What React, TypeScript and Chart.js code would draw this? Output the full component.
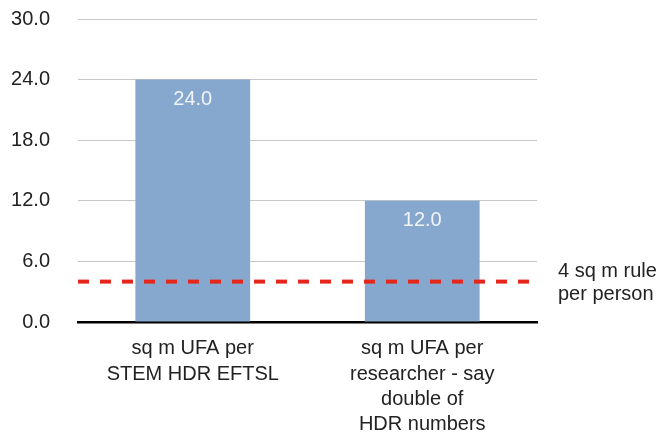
import React, { useEffect, useRef } from "react";
import { Chart, registerables } from "chart.js";

Chart.register(...registerables);

const categories: string[][] = [
  ["sq m UFA per", "STEM HDR EFTSL"],
  ["sq m UFA per", "researcher - say", "double of", "HDR numbers"],
];
const values: number[] = [24.0, 12.0];
const ruleValue = 4;
const ruleLabel: string[] = ["4 sq m rule", "per person"];
const yTicks: number[] = [0, 6, 12, 18, 24, 30];

const FONT = "'Liberation Sans', Arial, Helvetica, sans-serif";

const overlay = {
  id: "overlay",
  afterDatasetsDraw(chart: any) {
    const ctx = chart.ctx;
    const ys = chart.scales.y;
    const area = chart.chartArea;
    const meta = chart.getDatasetMeta(0);
    ctx.save();
    ctx.font = `20px ${FONT}`;
    ctx.fillStyle = "#f2f4f8";
    ctx.textAlign = "center";
    ctx.textBaseline = "middle";
    meta.data.forEach((bar: any, i: number) => {
      ctx.fillText(values[i].toFixed(1), bar.x, bar.y + 20);
    });
    const y = ys.getPixelForValue(ruleValue);
    ctx.strokeStyle = "#e5261b";
    ctx.lineWidth = 4;
    ctx.setLineDash([11, 11]);
    ctx.beginPath();
    ctx.moveTo(area.left, y);
    ctx.lineTo(area.right, y);
    ctx.stroke();
    ctx.setLineDash([]);
    ctx.fillStyle = "#222";
    ctx.textAlign = "left";
    ctx.font = `20px ${FONT}`;
    ruleLabel.forEach((t, i) => {
      ctx.fillText(t, area.right + 21, y - 10 + i * 23);
    });
    ctx.restore();
  },
};

export default function App() {
  const ref = useRef<HTMLCanvasElement>(null);
  useEffect(() => {
    document.body.style.margin = "0";
    const chart = new Chart(ref.current!, {
      type: "bar",
      data: {
        labels: categories,
        datasets: [
          {
            data: values,
            backgroundColor: "#86a8cf",
            categoryPercentage: 1,
            barPercentage: 0.5,
          },
        ],
      },
      options: {
        responsive: false,
        animation: false,
        layout: { padding: { left: 8, right: 126, top: 19, bottom: 0 } },
        plugins: { legend: { display: false }, tooltip: { enabled: false } },
        scales: {
          x: {
            grid: { display: false, drawTicks: false },
            border: { color: "#000", width: 2.5 },
            ticks: {
              color: "#222",
              padding: 14,
              maxRotation: 0,
              font: { family: FONT, size: 20, lineHeight: 1.27 },
            },
            afterFit: (s: any) => {
              s.height = 115;
            },
          },
          y: {
            min: 0,
            max: 30,
            afterBuildTicks: (s: any) => {
              s.ticks = yTicks.map((v) => ({ value: v }));
            },
            grid: { color: "#c8c8c8", lineWidth: 1, drawTicks: false },
            border: { display: false },
            ticks: {
              color: "#222",
              padding: 28,
              font: { family: FONT, size: 20 },
              callback: (v: any) => Number(v).toFixed(1),
            },
            afterFit: (s: any) => {
              s.width = 70;
              s.paddingTop = 0;
              s.paddingBottom = 0;
            },
          },
        },
      },
      plugins: [overlay],
    });
    return () => chart.destroy();
  }, []);
  return <canvas ref={ref} width={663} height={437} style={{ display: "block" }} />;
}
